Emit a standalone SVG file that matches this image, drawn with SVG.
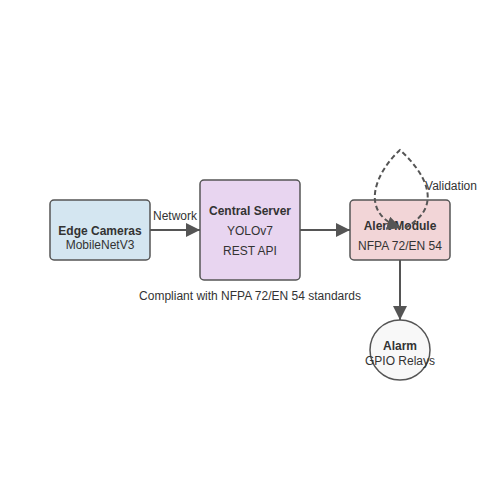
<svg xmlns="http://www.w3.org/2000/svg" width="500" height="500" viewBox="0 0 500 500">
<defs>
<marker id="arrL" viewBox="0 0 10 10" refX="10" refY="5" markerWidth="14" markerHeight="14" markerUnits="userSpaceOnUse" orient="auto">
<path d="M0,0 L10,5 L0,10 z" fill="#555"/>
</marker>
<style>
text{font-family:"Liberation Sans",Arial,sans-serif;font-size:12px;fill:#333;text-anchor:middle}
.b{font-weight:bold}
.box{stroke:#555;stroke-width:1.5}
.e{stroke:#555;stroke-width:2;fill:none}
</style>
</defs>
<rect width="500" height="500" fill="#fff"/>
<g id="edge-cameras">
<rect class="box" x="50" y="200" width="100" height="60" rx="4" fill="#d4e6f1"/>
<text class="b" x="100" y="235">Edge Cameras</text>
<text x="100" y="249">MobileNetV3</text>
</g>
<g id="central-server">
<rect class="box" x="200" y="180" width="100" height="100" rx="4" fill="#e8d5f0"/>
<text class="b" x="250" y="215">Central Server</text>
<text x="250" y="235">YOLOv7</text>
<text x="250" y="255">REST API</text>
</g>
<g id="alert-module">
<rect class="box" x="350" y="200" width="100" height="60" rx="4" fill="#f2d5d7"/>
<text class="b" x="400" y="230">Alert Module</text>
<text x="400" y="250">NFPA 72/EN 54</text>
</g>
<g id="alarm">
<circle class="box" cx="400" cy="350" r="30" fill="#f8f8f8"/>
<text class="b" x="400" y="350">Alarm</text>
<text x="400" y="365">GPIO Relays</text>
</g>
<g id="connectors">
<path class="e" d="M150,230 L200,230" marker-end="url(#arrL)"/>
<path class="e" d="M300,230 L350,230" marker-end="url(#arrL)"/>
<path class="e" d="M400,260 L400,320" marker-end="url(#arrL)"/>
<path class="e" d="M405,228 C447,205 422,170 400,150 C378,170 356,212 401,228" stroke-dasharray="5,3" stroke-width="1.5" marker-end="url(#arrL)"/>
<text x="175" y="220">Network</text>
<text x="451" y="190">Validation</text>
</g>
<text x="250" y="300">Compliant with NFPA 72/EN 54 standards</text>
</svg>
